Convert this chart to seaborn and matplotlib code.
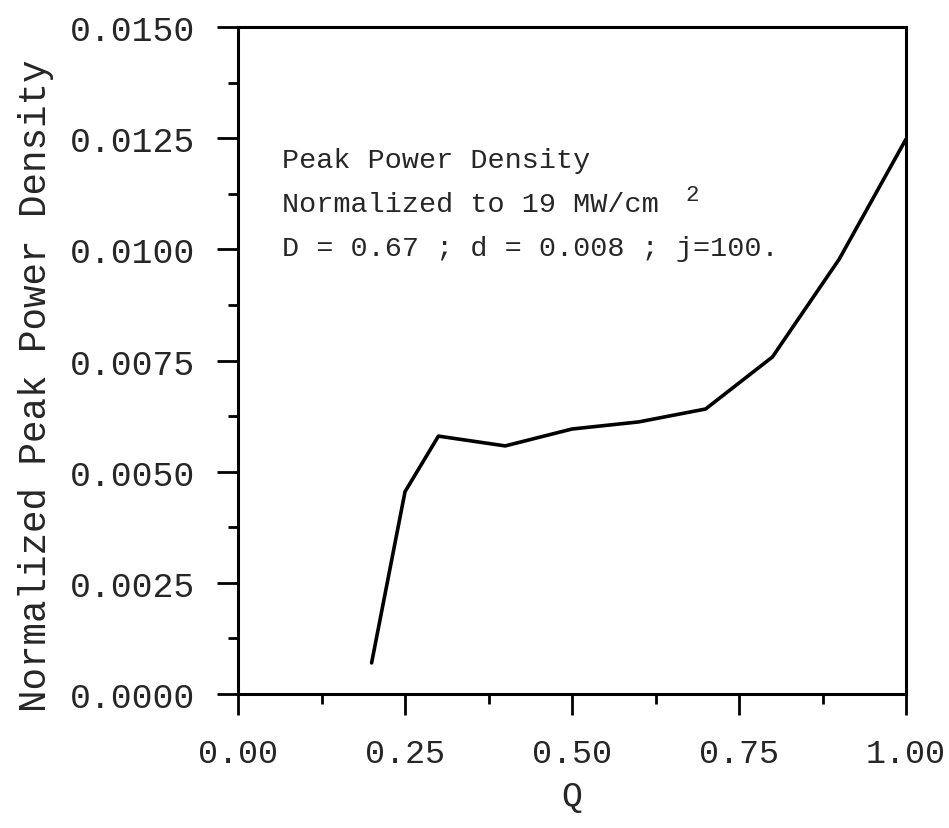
# Peak power density vs Q, redrawn from a scanned figure
import matplotlib
matplotlib.use('Agg')
import matplotlib.pyplot as plt
from matplotlib.ticker import MultipleLocator, FormatStrFormatter
import pandas as pd
import seaborn as sns

# Values
q_values = [0.2, 0.25, 0.3, 0.4, 0.5, 0.6, 0.7, 0.8, 0.9, 1.0]
peak_density = [0.0007, 0.00455, 0.0058, 0.00558, 0.00596, 0.00612, 0.00641, 0.00758, 0.00978, 0.01248]
note_lines = ['Peak Power Density', 'Normalized to 19 MW/cm', 'D = 0.67 ; d = 0.008 ; j=100.']

df = pd.DataFrame({'Q': q_values, 'density': peak_density})

sns.set_style('ticks')
plt.rcParams['font.family'] = ['Liberation Mono', 'DejaVu Sans']

fig = plt.figure(figsize=(9.49, 8.29), dpi=100)
ax = fig.add_axes([0.2508, 0.1616, 0.7039, 0.8046])

sns.lineplot(data=df, x='Q', y='density', color='black', linewidth=2.6, ax=ax)

ax.set_xlim(0, 1)
ax.set_ylim(0, 0.015)
ax.xaxis.set_major_locator(MultipleLocator(0.25))
ax.xaxis.set_minor_locator(MultipleLocator(0.125))
ax.yaxis.set_major_locator(MultipleLocator(0.0025))
ax.yaxis.set_minor_locator(MultipleLocator(0.00125))
ax.xaxis.set_major_formatter(FormatStrFormatter('%.2f'))
ax.yaxis.set_major_formatter(FormatStrFormatter('%.4f'))

for side in ['left', 'right', 'top', 'bottom']:
    ax.spines[side].set_visible(True)
    ax.spines[side].set_linewidth(2.2)
    ax.spines[side].set_color('black')

ax.tick_params(axis='both', which='major', direction='out', length=15, width=2,
               color='black', labelsize=25)
ax.tick_params(axis='both', which='minor', direction='out', length=7.5, width=2, color='black')
ax.tick_params(axis='y', which='major', pad=16)
ax.tick_params(axis='x', which='major', pad=17, labelsize=24)

ax.set_xlabel('Q', fontsize=25, labelpad=7)
ax.set_ylabel('Normalized Peak Power Density', fontsize=27)
ax.yaxis.set_label_coords(-0.275, 0.463)

# annotation block
ys = [0.0120, 0.01103, 0.01002]
for txt, yy in zip(note_lines, ys):
    ax.text(0.066, yy, txt, fontsize=20.5, va='center', ha='left')
ax.text(0.669, 0.01124, '2', fontsize=16, va='center', ha='left')

fig.savefig('out.png', dpi=100)
plt.close()
